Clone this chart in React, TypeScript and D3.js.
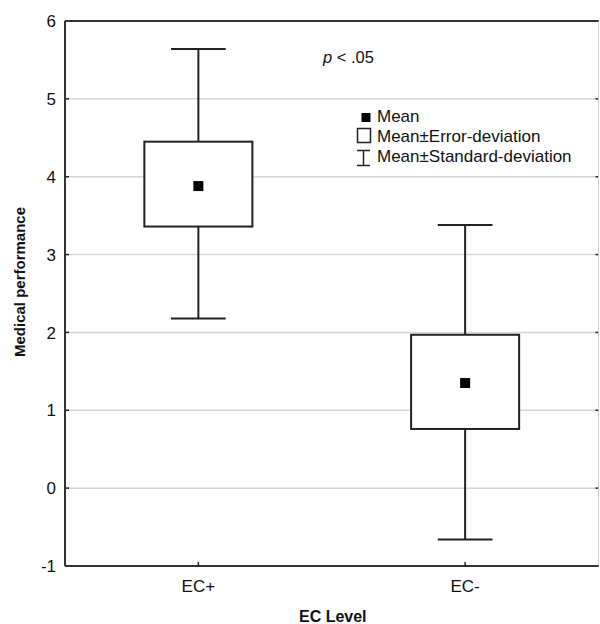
import React from "react";
import * as d3 from "d3";

const categories = ["EC+", "EC-"];
const means = [3.88, 1.35];
const errLow = [3.36, 0.76];
const errHigh = [4.45, 1.97];
const sdLow = [2.18, -0.66];
const sdHigh = [5.64, 3.38];
const yTicks = [-1, 0, 1, 2, 3, 4, 5, 6];

const W = 600;
const H = 624;
const L = 65;
const R = 598.5;
const T = 21;
const B = 566;
const font = "Liberation Sans, Arial, sans-serif";

export default function App() {
  const x = d3.scalePoint<string>().domain(categories).range([L, R]).padding(0.5);
  const y = d3.scaleLinear().domain([-1, 6]).range([B, T]);
  const step = x.step();
  const boxW = step * 0.405;
  const capW = step * 0.205;
  const dark = "#222";

  return (
    <svg width={W} height={H} style={{ position: "absolute", left: 0, top: 0, background: "#fff" }} fontFamily={font}>
      <rect x={0} y={0} width={W} height={H} fill="#fff" />
      {yTicks.map((t) =>
        t > -1 && t < 6 ? (
          <line key={"g" + t} x1={L} x2={R} y1={y(t)} y2={y(t)} stroke="#d6d6d6" strokeWidth={1.5} />
        ) : null
      )}
      {yTicks.map((t) => (
        <g key={"t" + t}>
          <line x1={L} x2={L + 4} y1={y(t)} y2={y(t)} stroke={dark} strokeWidth={1.5} />
          <line x1={R - 3} x2={R} y1={y(t)} y2={y(t)} stroke={dark} strokeWidth={1.5} />
          <text x={56} y={y(t)} dy="0.36em" textAnchor="end" fontSize={17} fill="#111">
            {t}
          </text>
        </g>
      ))}
      {/* frame */}
      <line x1={R} x2={R} y1={T} y2={B} stroke="#ccc" strokeWidth={1} />
      <line x1={L} x2={R} y1={T} y2={T} stroke="#333" strokeWidth={2} />
      <line x1={L} x2={R} y1={B} y2={B} stroke="#333" strokeWidth={2} />
      <line x1={L} x2={L} y1={T} y2={B} stroke="#333" strokeWidth={2} />
      {categories.map((c) => (
        <g key={"x" + c}>
          <line x1={x(c)!} x2={x(c)!} y1={B} y2={B - 4} stroke={dark} strokeWidth={1.5} />
          <text x={x(c)!} y={592} textAnchor="middle" fontSize={17} fill="#111">
            {c}
          </text>
        </g>
      ))}
      {categories.map((c, i) => {
        const cx = x(c)!;
        return (
          <g key={"b" + c} stroke={dark} strokeWidth={2} fill="none">
            <line x1={cx} x2={cx} y1={y(sdHigh[i])} y2={y(errHigh[i])} />
            <line x1={cx} x2={cx} y1={y(errLow[i])} y2={y(sdLow[i])} />
            <line x1={cx - capW / 2} x2={cx + capW / 2} y1={y(sdHigh[i])} y2={y(sdHigh[i])} />
            <line x1={cx - capW / 2} x2={cx + capW / 2} y1={y(sdLow[i])} y2={y(sdLow[i])} />
            <rect x={cx - boxW / 2} y={y(errHigh[i])} width={boxW} height={y(errLow[i]) - y(errHigh[i])} fill="#fff" />
            <rect x={cx - 5} y={y(means[i]) - 5} width={10} height={10} fill="#000" stroke="none" />
          </g>
        );
      })}
      {/* annotation */}
      <text x={323} y={63} fontSize={16.5} fill="#111">
        <tspan fontStyle="italic">p</tspan> &lt; .05
      </text>
      {/* legend */}
      <g>
        <rect x={361.5} y={113} width={9} height={9} fill="#000" />
        <text x={377} y={122} fontSize={17} fill="#111">Mean</text>
        <rect x={357.5} y={128.5} width={13} height={14} fill="#fff" stroke={dark} strokeWidth={1.5} />
        <text x={377} y={142} fontSize={17} fill="#111">Mean±Error-deviation</text>
        <g stroke={dark} strokeWidth={1.5}>
          <line x1={357} x2={370} y1={150.5} y2={150.5} />
          <line x1={363.5} x2={363.5} y1={150.5} y2={165.5} />
          <line x1={357} x2={370} y1={165.5} y2={165.5} />
        </g>
        <text x={377} y={162} fontSize={17} fill="#111">Mean±Standard-deviation</text>
      </g>
      <text x={(L + R) / 2 + 1} y={622} textAnchor="middle" fontSize={16} fontWeight="bold" fill="#111">
        EC Level
      </text>
      <text transform={`translate(24.5,${282}) rotate(-90)`} textAnchor="middle" fontSize={15} fontWeight="bold" fill="#111">
        Medical performance
      </text>
    </svg>
  );
}
